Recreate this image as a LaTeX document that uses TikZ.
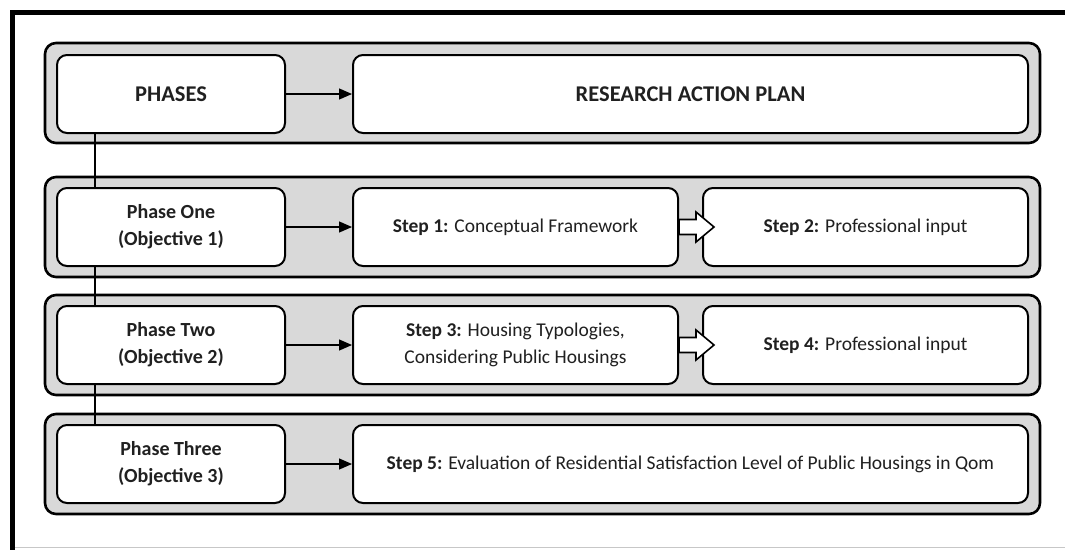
\documentclass[tikz,border=0pt]{standalone}
\usepackage{fontspec}
\setmainfont{Carlito}
\usetikzlibrary{arrows.meta,calc}
\definecolor{panelgray}{HTML}{D9D9D9}
\definecolor{txt}{HTML}{202020}
\tikzset{
  container/.style={draw=black, line width=2.6pt, fill=panelgray, rounded corners=11pt,
    minimum width=995pt, minimum height=100pt, inner sep=0pt},
  box/.style={draw=black, line width=2pt, fill=white, rounded corners=10pt,
    minimum height=78pt, inner sep=0pt, align=center, text=txt,
    font=\fontsize{19.5}{27}\selectfont},
  headbox/.style={box, font=\fontsize{22.5}{27}\selectfont\bfseries},
  phasebox/.style={box, minimum width=228pt, font=\fontsize{20}{27}\selectfont\bfseries},
  stepbox/.style={box, minimum width=325pt},
  widebox/.style={box, minimum width=675pt},
  flow/.style={line width=1.3pt, -{Triangle[length=13pt,width=11pt]}},
  link/.style={line width=2pt},
  blockarrow/.style={draw=black, line width=1.6pt, fill=white, line join=miter}
}
\begin{document}
\begin{tikzpicture}[x=1pt,y=-1pt]
\useasboundingbox (0,0) rectangle (1065,549);
% outer frame
\draw[line width=5pt] (12.5,551) -- (12.5,12.5) -- (1066,12.5);
\draw[line width=1.5pt, black!22] (15,547.5) -- (1066,547.5);

% containers
\node[container] (r1) at (542.5,93) {};
\node[container] (r2) at (542.5,227) {};
\node[container] (r3) at (542.5,345) {};
\node[container] (r4) at (542.5,464) {};

% connector line coordinate
\coordinate (vx) at (95,0);

% row 1
\node[headbox, minimum width=228pt] (phases) at (171,94) {PHASES};
\node[headbox, minimum width=675pt] (plan) at (690.5,94) {RESEARCH ACTION PLAN};
% row 2
\node[phasebox] (p1) at (171,227) {Phase One\\(Objective 1)};
\node[stepbox] (s1) at (515.5,227) {\textbf{Step 1:} Conceptual Framework};
\node[stepbox] (s2) at (865.5,227) {\textbf{Step 2:} Professional input};
% row 3
\node[phasebox] (p2) at (171,345) {Phase Two\\(Objective 2)};
\node[stepbox] (s3) at (515.5,345) {\textbf{Step 3:} Housing Typologies,\\Considering Public Housings};
\node[stepbox] (s4) at (865.5,345) {\textbf{Step 4:} Professional input};
% row 4
\node[phasebox] (p3) at (171,464) {Phase Three\\(Objective 3)};
\node[widebox] (s5) at (690.5,464) {\textbf{Step 5:} Evaluation of Residential Satisfaction Level of Public Housings in Qom};

% vertical links
\draw[link] (phases.south -| vx) -- (p1.north -| vx);
\draw[link] (p1.south -| vx) -- (p2.north -| vx);
\draw[link] (p2.south -| vx) -- (p3.north -| vx);

% flow arrows
\draw[flow] (phases) -- (plan);
\draw[flow] (p1) -- (s1);
\draw[flow] (p2) -- (s3);
\draw[flow] (p3) -- (s5);

% block arrows
\draw[blockarrow] ($(s1.east)+(0,-7.5)$) -- ++(17,0) -- ++(0,-7.5) -- ++(18,15) -- ++(-18,15) -- ++(0,-7.5) -- ++(-17,0) -- cycle;
\draw[blockarrow] ($(s3.east)+(0,-7.5)$) -- ++(17,0) -- ++(0,-7.5) -- ++(18,15) -- ++(-18,15) -- ++(0,-7.5) -- ++(-17,0) -- cycle;
\end{tikzpicture}
\end{document}
